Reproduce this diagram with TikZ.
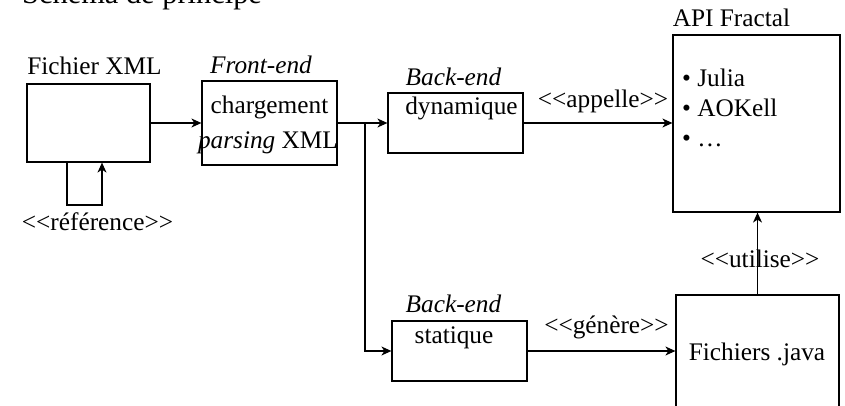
\documentclass[tikz,border=0pt]{standalone}
\usepackage{fontspec}
\setmainfont{Liberation Serif}
\usetikzlibrary{arrows.meta}
\newcommand{\dlt}{<\kern0pt<}
\newcommand{\dgt}{>\kern0pt>}
\begin{document}
\begin{tikzpicture}[x=1pt,y=-1pt,
  box/.style={draw,line width=1.2pt,inner sep=0pt},
  txt/.style={inner sep=0pt,anchor=base,font=\fontsize{25.3}{30}\selectfont},
  txtw/.style={inner sep=0pt,anchor=base west,font=\fontsize{25.3}{30}\selectfont},
  arr/.style={line width=1.2pt,-{Stealth[length=10pt,width=9pt,inset=3pt]}},
  ln/.style={line width=1.2pt}]
\useasboundingbox (0,0) rectangle (845,406);
\clip (0,0) rectangle (845,406);
\fill[white] (0,0) rectangle (845,406);
% title
\node[inner sep=0pt,anchor=base west,font=\fontsize{30.4}{36}\selectfont] (title) at (22,4) {Schéma de principe};
% boxes
\node[box,minimum width=123pt,minimum height=78pt] (xml) at (88.5,123) {};
\node[box,minimum width=135pt,minimum height=84pt] (front) at (269.5,123) {};
\node[box,minimum width=135pt,minimum height=60pt] (dyn) at (455.5,123) {};
\node[box,minimum width=167pt,minimum height=177pt] (api) at (756.5,123.5) {};
\node[box,minimum width=135pt,minimum height=60pt] (stat) at (459.5,351) {};
\node[box,minimum width=163pt,minimum height=160pt] (java) at (757.5,375) {};
% labels above boxes
\node[txt] (lxml) at (94.5,75) {Fichier XML};
\node[txt] (lfront) at (261,74) {\itshape Front-end};
\node[txt] (ldyn) at (453.5,86) {\itshape Back-end};
\node[txt] (lstat) at (453.5,312) {\itshape Back-end};
\node[txt] (lapi) at (731.5,27) {API Fractal};
% box contents
\node[txt] (tch) at (269.5,114) {chargement};
\node[txt] (tpa) at (268,149) {\itshape parsing\/\upshape{} XML};
\node[txt] (tdyn) at (461.5,115) {dynamique};
\node[txt] (tstat) at (454,343) {statique};
\node[txt] (tjava) at (757,360) {Fichiers .java};
\node[txtw] (b1) at (682,87) {• Julia};
\node[txtw] (b2) at (682,117) {• AOKell};
\node[txtw] (b3) at (682,147) {• …};
% connector labels
\node[txt] (lapp) at (603,108) {\dlt appelle\dgt};
\node[txt] (lgen) at (606.5,333) {\dlt génère\dgt};
\node[txt] (luti) at (760,267) {\dlt utilise\dgt};
\node[txt] (lref) at (97.5,230) {\dlt référence\dgt};
% connectors
\draw[arr] (xml.east) -- (front.west);
\draw[arr] (front.east) -- (dyn.west);
\coordinate (br) at (365,123);
\draw[arr] (br) |- (stat.west);
\draw[arr] (dyn.east) -- (api.west |- dyn.east);
\draw[arr] (stat.east) -- (java.west |- stat.east);
\draw[arr] (java.north) -- (java.north |- api.south);
\coordinate (la) at (67,205);
\coordinate (lb) at (102,205);
\draw[arr] (la |- xml.south) -- (la) -- (lb) -- (lb |- xml.south);
\end{tikzpicture}
\end{document}
